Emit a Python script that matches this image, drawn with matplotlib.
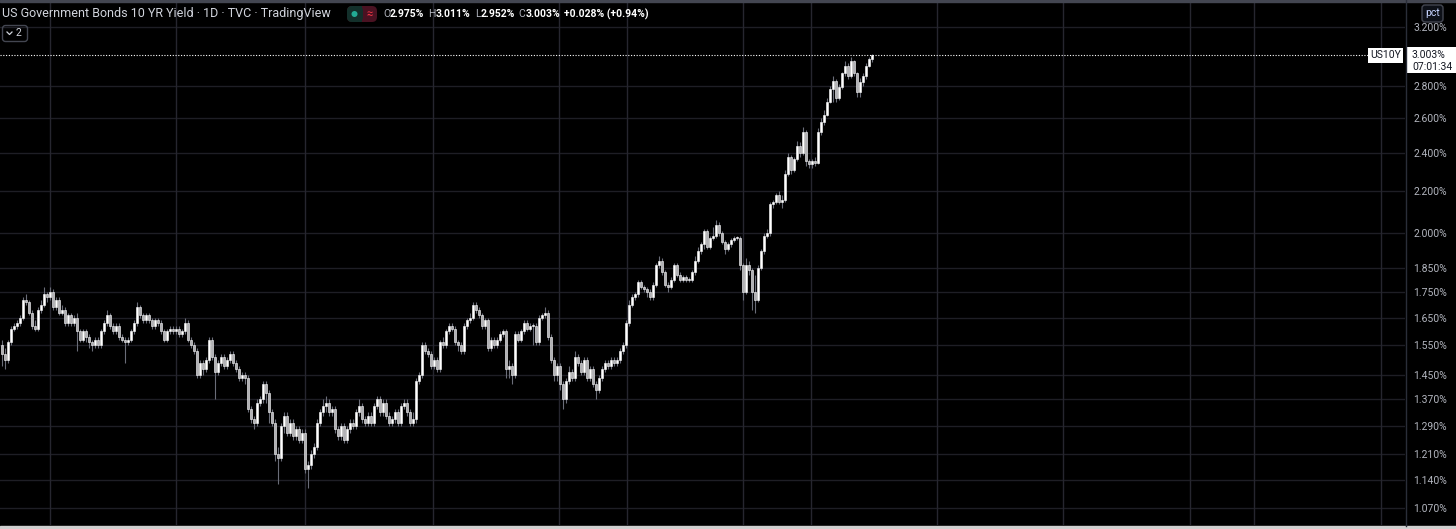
import matplotlib
matplotlib.use("Agg")
import matplotlib.pyplot as plt
from matplotlib.patches import Rectangle, FancyBboxPatch, Circle
from matplotlib.ticker import NullLocator
import numpy as np

plt.rcParams['font.family'] = ['Roboto', 'DejaVu Sans']

W, H = 1456, 529

# daily US10Y candles (percent)
opens = [
    1.55, 1.52, 1.50, 1.56, 1.61, 1.62, 1.63, 1.65, 1.72, 1.71,
    1.67, 1.62, 1.61, 1.68, 1.70, 1.74, 1.73, 1.75, 1.69, 1.72,
    1.67, 1.68, 1.63, 1.66, 1.63, 1.65, 1.60, 1.57, 1.60, 1.58,
    1.56, 1.55, 1.57, 1.55, 1.60, 1.63, 1.66, 1.62, 1.60, 1.62,
    1.58, 1.57, 1.56, 1.57, 1.60, 1.63, 1.69, 1.66, 1.64, 1.66,
    1.64, 1.62, 1.64, 1.63, 1.60, 1.57, 1.60, 1.61, 1.60, 1.61,
    1.59, 1.60, 1.63, 1.57, 1.55, 1.53, 1.45, 1.49, 1.47, 1.50,
    1.57, 1.51, 1.46, 1.49, 1.51, 1.48, 1.50, 1.52, 1.49, 1.47,
    1.44, 1.45, 1.44, 1.34, 1.31, 1.30, 1.36, 1.37, 1.42, 1.39,
    1.33, 1.30, 1.21, 1.20, 1.29, 1.32, 1.27, 1.30, 1.26, 1.28,
    1.25, 1.27, 1.17, 1.18, 1.21, 1.23, 1.30, 1.33, 1.35, 1.36,
    1.33, 1.34, 1.28, 1.26, 1.29, 1.25, 1.28, 1.30, 1.29, 1.33,
    1.35, 1.31, 1.30, 1.32, 1.30, 1.35, 1.37, 1.33, 1.36, 1.32,
    1.30, 1.31, 1.33, 1.30, 1.35, 1.36, 1.33, 1.30, 1.31, 1.43,
    1.45, 1.55, 1.53, 1.52, 1.48, 1.50, 1.47, 1.56, 1.55, 1.60,
    1.62, 1.61, 1.56, 1.55, 1.53, 1.62, 1.64, 1.65, 1.70, 1.68,
    1.66, 1.62, 1.64, 1.54, 1.57, 1.55, 1.57, 1.59, 1.60, 1.47,
    1.48, 1.45, 1.59, 1.57, 1.60, 1.63, 1.61, 1.62, 1.62, 1.56,
    1.65, 1.66, 1.67, 1.58, 1.50, 1.45, 1.48, 1.42, 1.37, 1.43,
    1.46, 1.44, 1.51, 1.49, 1.46, 1.50, 1.44, 1.47, 1.42, 1.40,
    1.44, 1.47, 1.49, 1.48, 1.50, 1.49, 1.50, 1.53, 1.55, 1.63,
    1.70, 1.73, 1.74, 1.79, 1.77, 1.76, 1.75, 1.73, 1.78, 1.86,
    1.88, 1.83, 1.78, 1.77, 1.80, 1.86, 1.82, 1.80, 1.81, 1.80,
    1.80, 1.83, 1.88, 1.92, 1.95, 2.01, 1.94, 1.98, 1.99, 2.04,
    2.00, 1.96, 1.93, 1.95, 1.97, 1.98, 1.98, 1.86, 1.75, 1.86,
    1.84, 1.75, 1.72, 1.85, 1.92, 1.99, 2.00, 2.14, 2.15, 2.18,
    2.15, 2.16, 2.29, 2.38, 2.31, 2.37, 2.44, 2.40, 2.52, 2.36,
    2.34, 2.36, 2.35, 2.52, 2.58, 2.62, 2.70, 2.78, 2.83, 2.72,
    2.79, 2.88, 2.93, 2.86, 2.96, 2.88, 2.76, 2.82, 2.86, 2.93, 2.975,
]
highs = [
    1.57, 1.54, 1.57, 1.62, 1.63, 1.64, 1.66, 1.73, 1.74, 1.72,
    1.68, 1.64, 1.69, 1.72, 1.77, 1.75, 1.77, 1.76, 1.73, 1.73,
    1.70, 1.69, 1.67, 1.67, 1.66, 1.67, 1.61, 1.61, 1.61, 1.59,
    1.57, 1.58, 1.58, 1.61, 1.64, 1.68, 1.67, 1.63, 1.63, 1.63,
    1.59, 1.58, 1.58, 1.61, 1.64, 1.71, 1.70, 1.67, 1.67, 1.67,
    1.65, 1.65, 1.65, 1.64, 1.61, 1.61, 1.62, 1.62, 1.62, 1.62,
    1.61, 1.65, 1.64, 1.58, 1.56, 1.54, 1.50, 1.50, 1.51, 1.58,
    1.58, 1.52, 1.50, 1.52, 1.52, 1.51, 1.53, 1.53, 1.50, 1.48,
    1.46, 1.46, 1.45, 1.35, 1.32, 1.37, 1.38, 1.43, 1.43, 1.40,
    1.34, 1.31, 1.23, 1.30, 1.33, 1.33, 1.31, 1.31, 1.29, 1.29,
    1.28, 1.28, 1.19, 1.22, 1.24, 1.31, 1.34, 1.37, 1.38, 1.37,
    1.35, 1.35, 1.29, 1.30, 1.30, 1.29, 1.31, 1.31, 1.34, 1.37,
    1.36, 1.32, 1.33, 1.33, 1.36, 1.38, 1.38, 1.37, 1.37, 1.33,
    1.32, 1.34, 1.34, 1.36, 1.37, 1.37, 1.34, 1.33, 1.44, 1.46,
    1.56, 1.56, 1.54, 1.53, 1.51, 1.51, 1.57, 1.58, 1.61, 1.63,
    1.63, 1.62, 1.57, 1.56, 1.63, 1.65, 1.67, 1.71, 1.71, 1.69,
    1.67, 1.65, 1.65, 1.58, 1.58, 1.58, 1.60, 1.61, 1.61, 1.50,
    1.49, 1.60, 1.60, 1.61, 1.64, 1.64, 1.63, 1.63, 1.63, 1.66,
    1.67, 1.69, 1.68, 1.59, 1.51, 1.49, 1.49, 1.43, 1.44, 1.48,
    1.47, 1.53, 1.52, 1.50, 1.51, 1.51, 1.48, 1.48, 1.43, 1.45,
    1.48, 1.50, 1.50, 1.51, 1.51, 1.51, 1.54, 1.56, 1.64, 1.72,
    1.74, 1.75, 1.80, 1.80, 1.78, 1.77, 1.76, 1.79, 1.87, 1.90,
    1.89, 1.84, 1.79, 1.81, 1.87, 1.87, 1.83, 1.82, 1.82, 1.81,
    1.84, 1.90, 1.94, 1.96, 2.02, 2.02, 1.99, 2.03, 2.06, 2.05,
    2.01, 1.97, 1.96, 1.98, 1.99, 1.99, 1.99, 1.87, 1.89, 1.88,
    1.85, 1.82, 1.86, 1.93, 2.00, 2.02, 2.15, 2.16, 2.19, 2.20,
    2.18, 2.31, 2.40, 2.39, 2.38, 2.47, 2.46, 2.55, 2.53, 2.37,
    2.37, 2.38, 2.54, 2.60, 2.65, 2.72, 2.80, 2.86, 2.84, 2.81,
    2.89, 2.96, 2.95, 2.99, 2.97, 2.89, 2.85, 2.88, 2.95, 2.99, 3.011,
]
lows = [
    1.48, 1.47, 1.49, 1.55, 1.60, 1.61, 1.62, 1.64, 1.70, 1.66,
    1.61, 1.60, 1.60, 1.67, 1.69, 1.71, 1.72, 1.68, 1.68, 1.66,
    1.66, 1.62, 1.62, 1.62, 1.62, 1.53, 1.56, 1.56, 1.56, 1.54,
    1.53, 1.54, 1.54, 1.54, 1.59, 1.62, 1.61, 1.59, 1.59, 1.57,
    1.56, 1.49, 1.55, 1.56, 1.59, 1.62, 1.65, 1.63, 1.63, 1.63,
    1.61, 1.61, 1.62, 1.59, 1.56, 1.56, 1.59, 1.59, 1.59, 1.58,
    1.58, 1.59, 1.56, 1.54, 1.52, 1.44, 1.44, 1.45, 1.46, 1.49,
    1.50, 1.37, 1.45, 1.48, 1.47, 1.47, 1.49, 1.48, 1.46, 1.43,
    1.43, 1.42, 1.33, 1.30, 1.28, 1.29, 1.35, 1.36, 1.36, 1.30,
    1.29, 1.19, 1.13, 1.19, 1.27, 1.26, 1.26, 1.25, 1.25, 1.24,
    1.24, 1.16, 1.12, 1.17, 1.20, 1.22, 1.29, 1.32, 1.33, 1.32,
    1.32, 1.27, 1.25, 1.25, 1.24, 1.24, 1.27, 1.28, 1.28, 1.32,
    1.30, 1.29, 1.29, 1.29, 1.29, 1.34, 1.32, 1.32, 1.31, 1.29,
    1.29, 1.30, 1.29, 1.29, 1.34, 1.32, 1.29, 1.29, 1.30, 1.42,
    1.44, 1.52, 1.51, 1.47, 1.47, 1.46, 1.46, 1.54, 1.54, 1.59,
    1.60, 1.55, 1.53, 1.52, 1.52, 1.61, 1.63, 1.64, 1.67, 1.65,
    1.61, 1.61, 1.53, 1.53, 1.54, 1.54, 1.56, 1.58, 1.44, 1.44,
    1.42, 1.44, 1.56, 1.56, 1.59, 1.60, 1.60, 1.55, 1.55, 1.55,
    1.64, 1.65, 1.57, 1.49, 1.43, 1.43, 1.40, 1.34, 1.36, 1.42,
    1.43, 1.43, 1.48, 1.45, 1.45, 1.43, 1.43, 1.41, 1.37, 1.39,
    1.43, 1.46, 1.47, 1.47, 1.48, 1.48, 1.49, 1.52, 1.54, 1.62,
    1.69, 1.72, 1.73, 1.76, 1.75, 1.73, 1.72, 1.72, 1.77, 1.85,
    1.82, 1.77, 1.75, 1.76, 1.79, 1.81, 1.79, 1.79, 1.79, 1.79,
    1.79, 1.82, 1.87, 1.91, 1.93, 1.93, 1.93, 1.97, 1.98, 1.99,
    1.95, 1.91, 1.92, 1.94, 1.96, 1.97, 1.84, 1.72, 1.74, 1.82,
    1.68, 1.67, 1.71, 1.84, 1.91, 1.98, 1.99, 2.12, 2.14, 2.14,
    2.12, 2.15, 2.28, 2.29, 2.30, 2.36, 2.38, 2.39, 2.33, 2.32,
    2.32, 2.33, 2.34, 2.50, 2.56, 2.61, 2.69, 2.70, 2.70, 2.71,
    2.78, 2.86, 2.84, 2.85, 2.86, 2.73, 2.73, 2.80, 2.84, 2.92, 2.952,
]
closes = [
    1.52, 1.50, 1.56, 1.61, 1.62, 1.63, 1.65, 1.72, 1.71, 1.67,
    1.62, 1.61, 1.68, 1.70, 1.74, 1.73, 1.75, 1.69, 1.72, 1.67,
    1.68, 1.63, 1.66, 1.63, 1.65, 1.60, 1.57, 1.60, 1.58, 1.56,
    1.55, 1.57, 1.55, 1.60, 1.63, 1.66, 1.62, 1.60, 1.62, 1.58,
    1.57, 1.56, 1.57, 1.60, 1.63, 1.69, 1.66, 1.64, 1.66, 1.64,
    1.62, 1.64, 1.63, 1.60, 1.57, 1.60, 1.61, 1.60, 1.61, 1.59,
    1.60, 1.63, 1.57, 1.55, 1.53, 1.45, 1.49, 1.47, 1.50, 1.57,
    1.51, 1.46, 1.49, 1.51, 1.48, 1.50, 1.52, 1.49, 1.47, 1.44,
    1.45, 1.44, 1.34, 1.31, 1.30, 1.36, 1.37, 1.42, 1.39, 1.33,
    1.30, 1.21, 1.20, 1.29, 1.32, 1.27, 1.30, 1.26, 1.28, 1.25,
    1.27, 1.17, 1.18, 1.21, 1.23, 1.30, 1.33, 1.35, 1.36, 1.33,
    1.34, 1.28, 1.26, 1.29, 1.25, 1.28, 1.30, 1.29, 1.33, 1.35,
    1.31, 1.30, 1.32, 1.30, 1.35, 1.37, 1.33, 1.36, 1.32, 1.30,
    1.31, 1.33, 1.30, 1.35, 1.36, 1.33, 1.30, 1.31, 1.43, 1.45,
    1.55, 1.53, 1.52, 1.48, 1.50, 1.47, 1.56, 1.55, 1.60, 1.62,
    1.61, 1.56, 1.55, 1.53, 1.62, 1.64, 1.65, 1.70, 1.68, 1.66,
    1.62, 1.64, 1.54, 1.57, 1.55, 1.57, 1.59, 1.60, 1.47, 1.48,
    1.45, 1.59, 1.57, 1.60, 1.63, 1.61, 1.62, 1.62, 1.56, 1.65,
    1.66, 1.67, 1.58, 1.50, 1.45, 1.48, 1.42, 1.37, 1.43, 1.46,
    1.44, 1.51, 1.49, 1.46, 1.50, 1.44, 1.47, 1.42, 1.40, 1.44,
    1.47, 1.49, 1.48, 1.50, 1.49, 1.50, 1.53, 1.55, 1.63, 1.70,
    1.73, 1.74, 1.79, 1.77, 1.76, 1.75, 1.73, 1.78, 1.86, 1.88,
    1.83, 1.78, 1.77, 1.80, 1.86, 1.82, 1.80, 1.81, 1.80, 1.80,
    1.83, 1.88, 1.92, 1.95, 2.01, 1.94, 1.98, 1.99, 2.04, 2.00,
    1.96, 1.93, 1.95, 1.97, 1.98, 1.98, 1.86, 1.75, 1.86, 1.84,
    1.75, 1.72, 1.85, 1.92, 1.99, 2.00, 2.14, 2.15, 2.18, 2.15,
    2.16, 2.29, 2.38, 2.31, 2.37, 2.44, 2.40, 2.52, 2.36, 2.34,
    2.36, 2.35, 2.52, 2.58, 2.62, 2.70, 2.78, 2.83, 2.72, 2.79,
    2.88, 2.93, 2.86, 2.96, 2.88, 2.76, 2.82, 2.86, 2.93, 2.975, 3.003,
]

y_ticks = [1.07, 1.14, 1.21, 1.29, 1.37, 1.45, 1.55, 1.65, 1.75, 1.85,
           2.0, 2.2, 2.4, 2.6, 2.8, 3.2]
month_grid_px = [50, 176, 305, 433, 559, 627, 743, 811, 937, 1063, 1190, 1254, 1381]

title = "US Government Bonds 10 YR Yield · 1D · TVC · TradingView"
ohlc_labels = [("O", "2.975%"), ("H", "3.011%"), ("L", "2.952%"), ("C", "3.003%")]
change_label = "+0.028% (+0.94%)"
symbol = "US10Y"
last_price = 3.003
countdown = "07:01:34"

BG = "#000000"
FG = "#d1d4dc"

fig = plt.figure(figsize=(W / 100, H / 100), dpi=100, facecolor=BG)
ax = fig.add_axes([0, 4 / H, 1405 / W, 523 / H])
ax.set_facecolor(BG)
ax.set_yscale("log")
ax.set_ylim(1.0294, 3.387)
ax.set_xlim(-2 / 3, 1403 / 3)   # one bar = 3 px

o = np.array(opens)
hi = np.array(highs)
lo = np.array(lows)
c = np.array(closes)
x = np.arange(len(c))
up = c >= o

# grid
for t in y_ticks:
    ax.axhline(t, color="#1e1e25", lw=1, zorder=0)
for px in month_grid_px:
    ax.axvline((px - 2) / 3, color="#26262f", lw=1, zorder=0)

# candles
ax.vlines(x, lo, hi, color="#6a6d78", lw=0.8, zorder=2)
bottom = np.minimum(o, c)
height = np.maximum(np.abs(c - o), 0.004)
ax.bar(x[up], height[up], bottom=bottom[up], width=0.7,
       color="#ffffff", edgecolor="#ffffff", lw=0.4, zorder=3)
ax.bar(x[~up], height[~up], bottom=bottom[~up], width=0.7,
       color="#b0b0b4", edgecolor="#ffffff", lw=0.4, zorder=3)

# last price line
ax.axhline(last_price, xmax=1368 / 1405, color="#ffffff", lw=0.8,
           linestyle=(0, (1, 1.5)), zorder=4)

for s in ax.spines.values():
    s.set_visible(False)
ax.set_xticks([])
ax.yaxis.tick_right()
ax.set_yticks(y_ticks)
ax.set_yticklabels([f"{t:.3f}%" for t in y_ticks])
ax.yaxis.set_minor_locator(NullLocator())
ax.tick_params(axis="y", length=0, pad=6, labelsize=7.5, labelcolor="#b2b5be")

# overlay in pixel coordinates for the chrome
ov = fig.add_axes([0, 0, 1, 1])
ov.set_xlim(0, W)
ov.set_ylim(H, 0)
ov.axis("off")
ov.patch.set_alpha(0)

ov.plot([1405.5, 1405.5], [0, 526], color="#2a2e39", lw=1)
ov.add_patch(Rectangle((0, 0), W, 1.5, color="#434651"))
ov.add_patch(Rectangle((0, 526), W, 3, color="#d0d0d0"))

# header
ov.text(2, 14, title, va="center", ha="left", fontsize=9, color=FG)
ov.add_patch(FancyBboxPatch((347, 6), 30, 16, boxstyle="round,pad=0,rounding_size=5",
                            fc="#4a1222", ec="none"))
ov.add_patch(FancyBboxPatch((347, 6), 16, 16, boxstyle="round,pad=0,rounding_size=5",
                            fc="#13302b", ec="none"))
ov.add_patch(Rectangle((358, 6), 4, 16, fc="#13302b", ec="none"))
ov.add_patch(Circle((354.5, 14), 3, fc="#22ab94", ec="none"))
ov.text(369.5, 14, "≈", ha="center", va="center", fontsize=8, color="#f23645")

fig.canvas.draw()
rend = fig.canvas.get_renderer()
inv = ov.transData.inverted()


def put(xpos, s, **kw):
    t = ov.text(xpos, 14, s, va="center", ha="left", **kw)
    bb = t.get_window_extent(rend)
    return inv.transform((bb.x1, bb.y0))[0]


cur = 383
for lab, val in ohlc_labels:
    cur = put(cur, lab, fontsize=7.5, color="#b2b5be")
    cur = put(cur, val, fontsize=7.5, color="#ffffff", fontweight="bold") + 4
put(cur, change_label, fontsize=7.5, color="#ffffff", fontweight="bold")

# legend collapse button
ov.add_patch(FancyBboxPatch((2.5, 25.5), 25, 16, boxstyle="round,pad=0,rounding_size=3",
                            fc="none", ec="#434651", lw=1))
ov.plot([7, 9.5, 12], [32, 34.5, 32], color=FG, lw=0.9)
ov.text(16, 33.5, "2", ha="left", va="center", fontsize=7.5, color=FG)

# pct button
ov.add_patch(FancyBboxPatch((1422, 5), 21, 17, boxstyle="round,pad=0,rounding_size=3",
                            fc="#0d1018", ec="#434651", lw=1))
ov.text(1432.5, 13, "pct", ha="center", va="center", fontsize=7.5, color="#c5d3ff")

# price and symbol labels
ov.add_patch(Rectangle((1368, 48), 35, 15, fc="#ffffff", ec="none"))
ov.text(1385.5, 55.5, symbol, ha="center", va="center", fontsize=7.5, color="#131722")
ov.add_patch(Rectangle((1406, 47), 50, 26, fc="#ffffff", ec="none"))
ov.text(1412, 55, f"{last_price:.3f}%", ha="left", va="center", fontsize=7.5, color="#131722")
ov.text(1412, 67, countdown, ha="left", va="center", fontsize=7.5, color="#131722")

fig.savefig("out.png", dpi=100, facecolor=BG)
